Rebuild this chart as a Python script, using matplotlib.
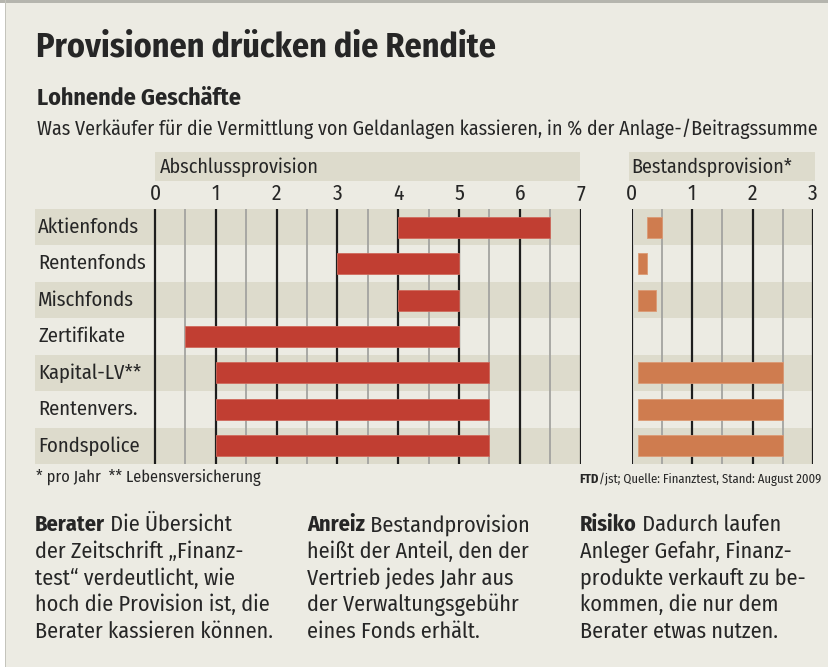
import matplotlib.pyplot as plt
from matplotlib.patches import Rectangle

categories = ["Aktienfonds", "Rentenfonds", "Mischfonds", "Zertifikate",
              "Kapital-LV**", "Rentenvers.", "Fondspolice"]
# Abschlussprovision, von - bis in %
abschluss_lo = [4.0, 3.0, 4.0, 0.5, 1.0, 1.0, 1.0]
abschluss_hi = [6.5, 5.0, 5.0, 5.0, 5.5, 5.5, 5.5]
# Bestandsprovision pro Jahr, von - bis in %
bestand_lo = [0.25, 0.1, 0.1, None, 0.1, 0.1, 0.1]
bestand_hi = [0.5, 0.25, 0.4, None, 2.5, 2.5, 2.5]

BG = "#ecebe3"
BAND = "#dddbcc"
RED = "#c13e32"
ORANGE = "#cf7c4f"
TXT = "#262626"

plt.rcParams["font.family"] = ["Fira Sans Condensed", "DejaVu Sans"]

W, H = 829, 667
fig = plt.figure(figsize=(W / 100, H / 100), dpi=100)
fig.patch.set_facecolor("white")
renderer = fig.canvas.get_renderer()


def fx(px):
    return px / W


def fy(py):
    return 1 - py / H


def box(x0, y0, x1, y1, color, z=-5):
    fig.add_artist(Rectangle((fx(x0), fy(y1)), fx(x1 - x0), (y1 - y0) / H,
                             transform=fig.transFigure, facecolor=color,
                             edgecolor="none", zorder=z))


def fit(t, width):
    # scale the font so the text spans the given pixel width
    for _ in range(3):
        w = t.get_window_extent(renderer).width
        t.set_fontsize(t.get_fontsize() * width / w)
    return t.get_fontsize()


# frame
box(5, 0, W, H, BG, z=-10)
box(0, 0, W, 3, "#b5b5ae")
box(5, 0, 6.5, H, "#c4c4bc")

t = fig.text(fx(36), fy(47), "Provisionen drücken die Rendite", fontsize=24,
             fontweight="bold", color=TXT, va="center", ha="left")
fit(t, 460)
t = fig.text(fx(37), fy(98), "Lohnende Geschäfte", fontsize=15,
             fontweight="bold", color=TXT, va="center", ha="left")
fit(t, 204)
t = fig.text(fx(37), fy(129),
             "Was Verkäufer für die Vermittlung von Geldanlagen kassieren, in % der Anlage-/Beitragssumme",
             fontsize=12.3, color=TXT, va="center", ha="left")
fit(t, 781)

# header boxes
box(155, 152, 580, 181, BAND)
box(629, 152, 815, 181, BAND)
t = fig.text(fx(160), fy(167), "Abschlussprovision", fontsize=12.5, color=TXT,
             va="center", ha="left")
hs = fit(t, 159)
fig.text(fx(631), fy(167), "Bestandsprovision*", fontsize=hs, color=TXT,
         va="center", ha="left")

top, bottom = 209, 464
n = len(categories)
ypos = list(range(n))


def setup(ax, xmax, band_left):
    ax.set_facecolor("none")
    for s in ax.spines.values():
        s.set_visible(False)
    ax.set_ylim(n - 0.5, -0.5)
    ax.set_yticks([])
    for i in ypos:
        if i % 2 == 0:
            ax.barh(i, xmax - band_left, left=band_left, height=1.0,
                    color=BAND, zorder=0)
    for k in range(2 * xmax + 1):
        v = k / 2
        if k % 2 == 0:
            ax.axvline(v, color="#1e1e1e", lw=1.6, zorder=1)
        else:
            ax.axvline(v, color="#a3a3a0", lw=1.3, zorder=1)
    ax.xaxis.tick_top()
    ax.set_xticks(range(xmax + 1))
    ax.set_xticklabels([str(v) for v in range(xmax + 1)])
    ax.tick_params(axis="x", length=0, pad=3, labelsize=15.5, colors=TXT)


# left panel: x=0 at 155 px, 60.8 px per unit
ppu = (580.6 - 155) / 7
xmin_left = -(155 - 34.5) / ppu
ax1 = fig.add_axes([fx(34.5), fy(bottom), fx(580.6 - 34.5), (bottom - top) / H])
setup(ax1, 7, xmin_left)
ax1.set_xlim(xmin_left, 7)
ax1.barh(ypos, [h - l for l, h in zip(abschluss_lo, abschluss_hi)],
         left=abschluss_lo, height=0.58, color=RED, zorder=2,
         edgecolor="#d06a5c", linewidth=0.6)
lab = []
for i, c in enumerate(categories):
    lab.append(ax1.text(xmin_left + 0.06, i, c, fontsize=13, color=TXT,
                        va="center", ha="left"))
ls = fit(lab[0], 101)
for tt in lab:
    tt.set_fontsize(ls)

# right panel
ax2 = fig.add_axes([fx(631.7), fy(bottom), fx(813 - 631.7), (bottom - top) / H])
setup(ax2, 3, 0.03)
ax2.set_xlim(0, 3)
for i in ypos:
    if bestand_lo[i] is None:
        continue
    ax2.barh(i, bestand_hi[i] - bestand_lo[i], left=bestand_lo[i],
             height=0.58, color=ORANGE, zorder=2,
             edgecolor="#dc9a74", linewidth=0.6)

# footnotes
t = fig.text(fx(36), fy(478), "* pro Jahr  ** Lebensversicherung", fontsize=10.5,
             color=TXT, va="center", ha="left")
fit(t, 224)
src = fig.text(fx(821), fy(479), "/jst; Quelle: Finanztest, Stand: August 2009",
               fontsize=8.5, color=TXT, va="center", ha="right")
ftd = fig.text(fx(580), fy(479), "FTD", fontsize=8.5, fontweight="bold",
               color=TXT, va="center", ha="left")
wf = ftd.get_window_extent(renderer).width
fit(src, 241 - wf)
ftd.set_fontsize(src.get_fontsize())
bb = src.get_window_extent(renderer)
ftd.set_x(bb.x0 / W)
ftd.set_ha("right")

# columns of text
col_x = [35, 307, 580]
heads = ["Berater", "Anreiz", "Risiko"]
first = [" Die Übersicht", " Bestandprovision", " Dadurch laufen"]
rest = [
    ["der Zeitschrift „Finanz-", "test“ verdeutlicht, wie",
     "hoch die Provision ist, die", "Berater kassieren können."],
    ["heißt der Anteil, den der", "Vertrieb jedes Jahr aus",
     "der Verwaltungsgebühr", "eines Fonds erhält."],
    ["Anleger Gefahr, Finanz-", "produkte verkauft zu be-",
     "kommen, die nur dem", "Berater etwas nutzen."],
]
line_y = [525, 551.7, 578.4, 605, 631.7]
probe = fig.text(0, 0, rest[0][3], fontsize=15)
fs = fit(probe, 238)
probe.remove()
for x, hd, f1, lines in zip(col_x, heads, first, rest):
    t = fig.text(fx(x), fy(line_y[0]), hd, fontsize=fs, fontweight="bold",
                 color=TXT, va="center", ha="left")
    b = t.get_window_extent(renderer)
    fig.text(b.x1 / W, fy(line_y[0]), f1, fontsize=fs, color=TXT,
             va="center", ha="left")
    for yy, ln in zip(line_y[1:], lines):
        fig.text(fx(x), fy(yy), ln, fontsize=fs, color=TXT,
                 va="center", ha="left")

fig.savefig("out.png", dpi=100, facecolor=fig.get_facecolor())
